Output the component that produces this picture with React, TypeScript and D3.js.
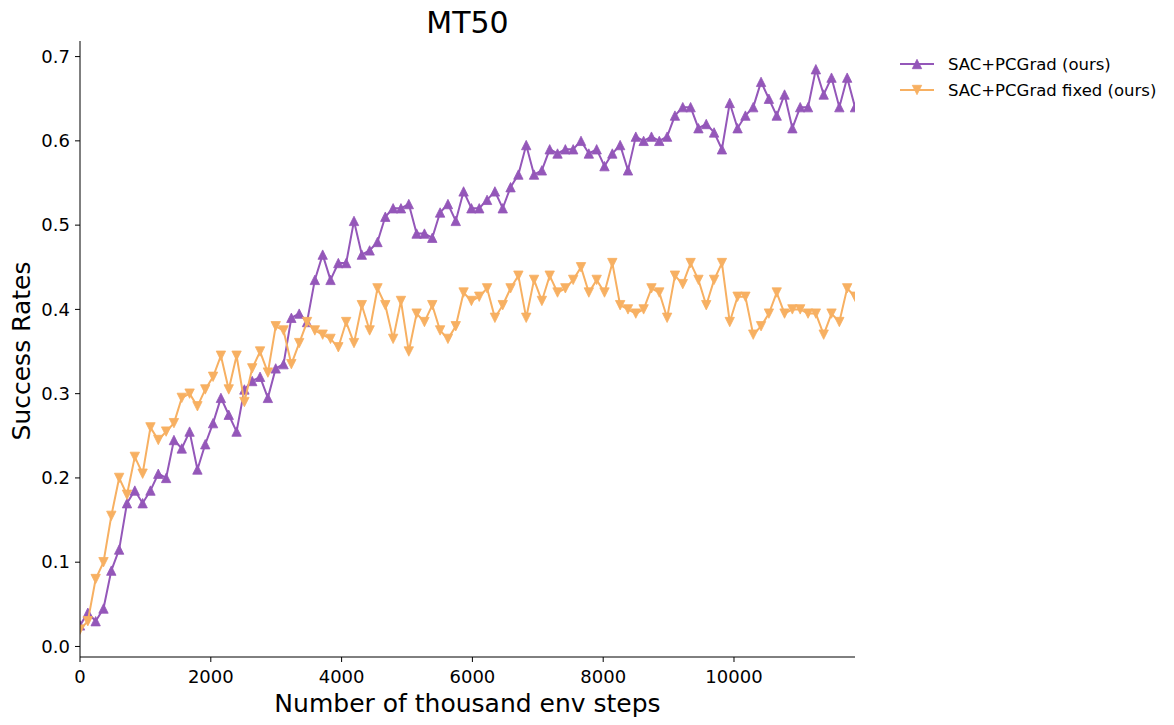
import React from "react";
import * as d3 from "d3";

const STEP = 119.7;
const xTicks = [0, 2000, 4000, 6000, 8000, 10000];
const yTicks = [0, 0.1, 0.2, 0.3, 0.4, 0.5, 0.6, 0.7];

const seriesNames = ["SAC+PCGrad (ours)", "SAC+PCGrad fixed (ours)"];

const pcgrad = [
  0.025, 0.04, 0.03, 0.045, 0.09, 0.115, 0.17, 0.185, 0.17, 0.185,
  0.205, 0.2, 0.245, 0.235, 0.255, 0.21, 0.24, 0.265, 0.295, 0.275,
  0.255, 0.305, 0.315, 0.32, 0.295, 0.33, 0.335, 0.39, 0.395, 0.385,
  0.435, 0.465, 0.435, 0.455, 0.455, 0.505, 0.465, 0.47, 0.48, 0.51,
  0.52, 0.52, 0.525, 0.49, 0.49, 0.485, 0.515, 0.525, 0.505, 0.54,
  0.52, 0.52, 0.53, 0.54, 0.52, 0.545, 0.56, 0.595, 0.56, 0.565,
  0.59, 0.585, 0.59, 0.59, 0.6, 0.585, 0.59, 0.57, 0.585, 0.595,
  0.565, 0.605, 0.6, 0.605, 0.6, 0.605, 0.63, 0.64, 0.64, 0.615,
  0.62, 0.61, 0.59, 0.645, 0.615, 0.63, 0.64, 0.67, 0.65, 0.63,
  0.655, 0.615, 0.64, 0.64, 0.685, 0.655, 0.675, 0.64, 0.675, 0.64,
];

const pcgradFixed = [
  0.02, 0.03, 0.08, 0.1, 0.155, 0.2, 0.18, 0.225, 0.205, 0.26,
  0.245, 0.255, 0.265, 0.295, 0.3, 0.285, 0.305, 0.32, 0.345, 0.305,
  0.345, 0.29, 0.33, 0.35, 0.325, 0.38, 0.375, 0.335, 0.36, 0.385,
  0.375, 0.37, 0.365, 0.355, 0.385, 0.36, 0.405, 0.375, 0.425, 0.405,
  0.365, 0.41, 0.35, 0.395, 0.385, 0.405, 0.375, 0.365, 0.38, 0.42,
  0.41, 0.415, 0.425, 0.39, 0.405, 0.425, 0.44, 0.39, 0.435, 0.41,
  0.44, 0.42, 0.425, 0.435, 0.45, 0.42, 0.435, 0.42, 0.455, 0.405,
  0.4, 0.395, 0.4, 0.425, 0.42, 0.39, 0.44, 0.43, 0.455, 0.435,
  0.405, 0.435, 0.455, 0.385, 0.415, 0.415, 0.37, 0.38, 0.395, 0.42,
  0.395, 0.4, 0.4, 0.395, 0.395, 0.37, 0.395, 0.385, 0.425, 0.415,
];

const colors = ["#9457b9", "#f7b062"];

const W = 1174;
const H = 725;
const L = 80, R = 855, T = 41, B = 657;
const FONT = "DejaVu Sans, sans-serif";

function tri(cx: number, cy: number, s: number, up: boolean) {
  const h = s;
  if (up) {
    return `M${cx},${cy - h}L${cx - h},${cy + h}L${cx + h},${cy + h}Z`;
  }
  return `M${cx},${cy + h}L${cx - h},${cy - h}L${cx + h},${cy - h}Z`;
}

export default function App() {
  const n = pcgrad.length;
  const xs = d3.range(n).map((i) => i * STEP);
  const x = d3.scaleLinear().domain([0, xs[n - 1]]).range([L, R]);
  const y = d3.scaleLinear().domain([-0.0125, 0.7185]).range([B, T]);
  const line = d3
    .line<number>()
    .x((_, i) => x(xs[i]))
    .y((d) => y(d));

  const all = [pcgrad, pcgradFixed];
  const ms = 4.7;

  return (
    <svg
      width={W}
      height={H}
      style={{ position: "absolute", left: 0, top: 0, background: "#fff" }}
      fontFamily={FONT}
    >
      <defs>
        <clipPath id="plot">
          <rect x={L} y={T} width={R - L} height={B - T} />
        </clipPath>
      </defs>
      <rect x={0} y={0} width={W} height={H} fill="#fff" />

      <g clipPath="url(#plot)">
        {all.map((s, k) => (
          <g key={k}>
            <path d={line(s) || ""} fill="none" stroke={colors[k]} strokeWidth={2} />
            {s.map((v, i) => (
              <path
                key={i}
                d={tri(x(xs[i]), y(v), ms, k === 0)}
                fill={colors[k]}
                stroke={colors[k]}
                strokeWidth={0.8}
              />
            ))}
          </g>
        ))}
      </g>

      {/* axes */}
      <line x1={L} x2={L} y1={T} y2={B} stroke="#000" strokeWidth={1} />
      <line x1={L} x2={R} y1={B} y2={B} stroke="#000" strokeWidth={1} />

      {yTicks.map((t) => (
        <g key={t}>
          <line x1={L - 5} x2={L} y1={y(t)} y2={y(t)} stroke="#000" />
          <text
            x={L - 10}
            y={y(t)}
            dy="0.35em"
            textAnchor="end"
            fontSize={18}
            fill="#000"
          >
            {t.toFixed(1)}
          </text>
        </g>
      ))}
      {xTicks.map((t) => (
        <g key={t}>
          <line x1={x(t)} x2={x(t)} y1={B} y2={B + 5} stroke="#000" />
          <text x={x(t)} y={B + 26} textAnchor="middle" fontSize={18} fill="#000">
            {t}
          </text>
        </g>
      ))}

      <text x={(L + R) / 2} y={33} textAnchor="middle" fontSize={30} fill="#000">
        MT50
      </text>
      <text x={(L + R) / 2} y={712} textAnchor="middle" fontSize={25} fill="#000">
        Number of thousand env steps
      </text>
      <text
        transform={`translate(30,${(T + B) / 2 + 2}) rotate(-90)`}
        textAnchor="middle"
        fontSize={25}
        fill="#000"
      >
        Success Rates
      </text>

      {/* legend */}
      {seriesNames.map((name, k) => {
        const ly = 64 + k * 26;
        return (
          <g key={name}>
            <line x1={900} x2={934} y1={ly} y2={ly} stroke={colors[k]} strokeWidth={2} />
            <path d={tri(917, ly, ms, k === 0)} fill={colors[k]} stroke={colors[k]} strokeWidth={0.8} />
            <text x={948} y={ly} dy="0.35em" fontSize={16.5} fill="#000">
              {name}
            </text>
          </g>
        );
      })}
    </svg>
  );
}
